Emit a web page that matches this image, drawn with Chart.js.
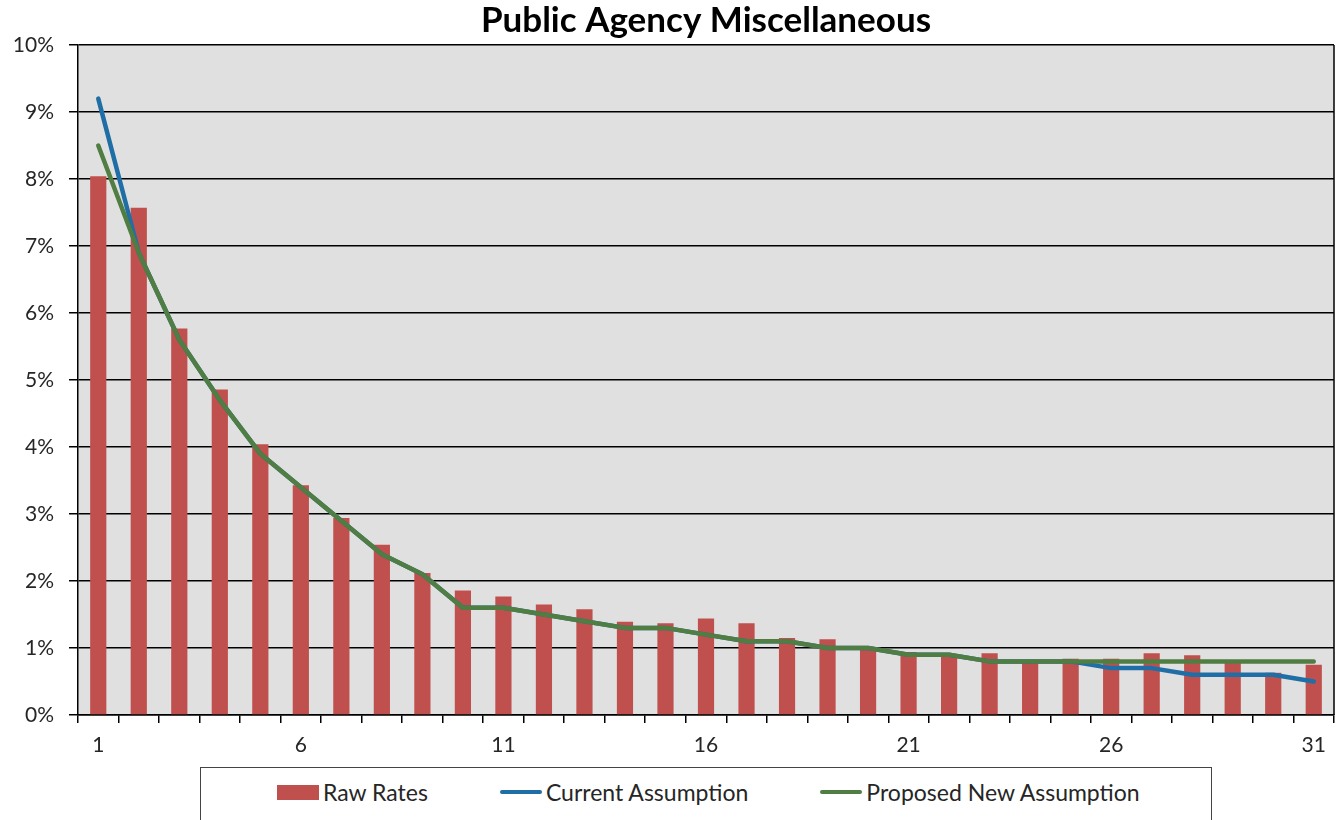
<!DOCTYPE html>
<html>
<head>
<meta charset="utf-8">
<script src="https://cdn.jsdelivr.net/npm/chart.js"></script>
<style>
  html, body { margin: 0; padding: 0; background: #fff; }
  #wrap { position: relative; width: 1340px; height: 820px; overflow: hidden; }
  #chart { position: absolute; left: 0; top: 0; }
  #legend {
    position: absolute; left: 200px; top: 767px; width: 1012px; height: 70px;
    border: 1.5px solid #444; box-sizing: border-box;
    display: flex; align-items: flex-start; padding: 10px 0 0 76px;
    font-family: Lato, sans-serif; font-size: 23px; color: #262626;
    white-space: nowrap;
  }
  #legend .item { display: flex; align-items: center; margin-right: 72px; flex: 0 0 auto; }
  #legend .swatch { width: 42px; margin-right: 4px; flex: 0 0 auto; }
</style>
</head>
<body>
<div id="wrap">
  <canvas id="chart" width="1340" height="767"></canvas>
  <div id="legend"></div>
</div>
<script>
// categories = years of service
const years = Array.from({ length: 31 }, (_, i) => String(i + 1));

// raw termination rates (%)
const rawRates = [8.04, 7.57, 5.77, 4.86, 4.04, 3.43, 2.94, 2.54, 2.12, 1.86,
                  1.77, 1.65, 1.58, 1.39, 1.37, 1.44, 1.37, 1.15, 1.13, 1.00,
                  0.94, 0.89, 0.92, 0.79, 0.84, 0.84, 0.92, 0.89, 0.79, 0.63, 0.75];

// current assumption (%)
const currentAssumption = [9.2, 6.9, 5.6, 4.7, 3.9, 3.4, 2.9, 2.4, 2.1, 1.6,
                           1.6, 1.5, 1.4, 1.3, 1.3, 1.2, 1.1, 1.1, 1.0, 1.0,
                           0.9, 0.9, 0.8, 0.8, 0.8, 0.7, 0.7, 0.6, 0.6, 0.6, 0.5];

// proposed new assumption (%)
const proposedAssumption = [8.5, 6.9, 5.6, 4.7, 3.9, 3.4, 2.9, 2.4, 2.1, 1.6,
                            1.6, 1.5, 1.4, 1.3, 1.3, 1.2, 1.1, 1.1, 1.0, 1.0,
                            0.9, 0.9, 0.8, 0.8, 0.8, 0.8, 0.8, 0.8, 0.8, 0.8, 0.8];

const seriesNames = ['Raw Rates', 'Current Assumption', 'Proposed New Assumption'];
const seriesColors = ['#c0504d', '#1f6ea6', '#4f7d42'];

const FONT = 'Lato, sans-serif';
const TEXT = '#262626';

// gray plot background + right frame edge
const plotFrame = {
    id: 'plotFrame',
    beforeDraw(chart) {
        const { ctx, chartArea: a } = chart;
        ctx.save();
        ctx.fillStyle = '#e0e0e0';
        ctx.fillRect(a.left, a.top, a.right - a.left, a.bottom - a.top);
        ctx.restore();
    },
    beforeDatasetsDraw(chart) {
        const { ctx, chartArea: a } = chart;
        ctx.save();
        ctx.strokeStyle = '#000';
        ctx.lineWidth = 1.5;
        ctx.beginPath();
        ctx.moveTo(a.right, a.top);
        ctx.lineTo(a.right, a.bottom);
        ctx.stroke();
        ctx.restore();
    }
};

const ctx = document.getElementById('chart').getContext('2d');
const chart = new Chart(ctx, {
    type: 'bar',
    data: {
        labels: years,
        datasets: [{
            label: seriesNames[0],
            data: rawRates,
            backgroundColor: seriesColors[0],
            barPercentage: 0.4,
            categoryPercentage: 1.0,
            order: 3
        }, {
            type: 'line',
            label: seriesNames[1],
            data: currentAssumption,
            borderColor: seriesColors[1],
            backgroundColor: seriesColors[1],
            borderWidth: 4.5,
            pointRadius: 0,
            tension: 0,
            borderCapStyle: 'round',
            borderJoinStyle: 'round',
            order: 2
        }, {
            type: 'line',
            label: seriesNames[2],
            data: proposedAssumption,
            borderColor: seriesColors[2],
            backgroundColor: seriesColors[2],
            borderWidth: 4.5,
            pointRadius: 0,
            tension: 0,
            borderCapStyle: 'round',
            borderJoinStyle: 'round',
            order: 1
        }]
    },
    options: {
        responsive: false,
        animation: false,
        layout: { padding: { right: 6, left: 0, top: 0, bottom: 0 } },
        plugins: {
            title: {
                display: true,
                text: 'Public Agency Miscellaneous',
                fullSize: false,
                color: '#000',
                font: { family: FONT, size: 35, weight: 'bold', lineHeight: 1.2 },
                padding: { top: 0, bottom: 3 }
            },
            legend: { display: false },
            tooltip: { enabled: false }
        },
        scales: {
            x: {
                offset: true,
                grid: {
                    offset: true,
                    drawOnChartArea: false,
                    drawTicks: true,
                    tickLength: 8,
                    color: '#000',
                    lineWidth: 1.5
                },
                border: { color: '#000', width: 1.5 },
                ticks: {
                    autoSkip: false,
                    maxRotation: 0,
                    padding: 10,
                    color: TEXT,
                    font: { family: FONT, size: 21 },
                    callback: function(value, index) {
                        return index % 5 === 0 ? this.getLabelForValue(value) : '';
                    }
                },
                afterFit(scale) { scale.height = 52; }
            },
            y: {
                min: 0,
                max: 10,
                grid: {
                    color: '#000',
                    lineWidth: 1.5,
                    tickLength: 9
                },
                border: { color: '#000', width: 1.5 },
                ticks: {
                    stepSize: 1,
                    padding: 15,
                    color: TEXT,
                    font: { family: FONT, size: 21 },
                    callback: function(value) {
                        return value + '%';
                    }
                },
                afterFit(scale) { scale.width = 78; }
            }
        }
    },
    plugins: [plotFrame]
});

// legend under the chart, built from the datasets
const legendEl = document.getElementById('legend');
chart.data.datasets.forEach((ds, i) => {
    const item = document.createElement('div');
    item.className = 'item';
    const sw = document.createElement('span');
    sw.className = 'swatch';
    if (ds.type === 'line') {
        sw.style.height = '4px';
        sw.style.borderRadius = '2px';
        sw.style.background = ds.borderColor;
    } else {
        sw.style.height = '15px';
        sw.style.background = ds.backgroundColor;
    }
    const txt = document.createElement('span');
    txt.textContent = ds.label;
    item.appendChild(sw);
    item.appendChild(txt);
    legendEl.appendChild(item);
});
</script>
</body>
</html>
